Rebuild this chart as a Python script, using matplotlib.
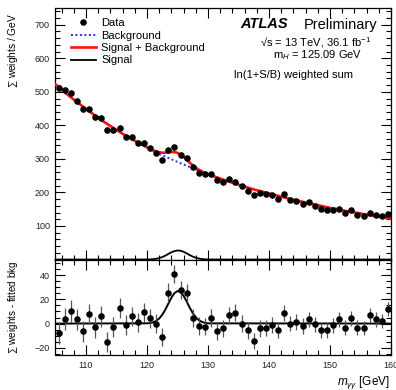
import numpy as np
import matplotlib
matplotlib.use("Agg")
import matplotlib.pyplot as plt
from matplotlib.lines import Line2D
from matplotlib.ticker import MultipleLocator

plt.rcParams['font.family'] = ['Liberation Sans', 'DejaVu Sans']
plt.rcParams['mathtext.fontset'] = 'custom'
plt.rcParams['mathtext.rm'] = 'Liberation Sans'
plt.rcParams['mathtext.it'] = 'Liberation Sans:italic'
plt.rcParams['mathtext.bf'] = 'Liberation Sans:bold'
plt.rcParams['mathtext.fallback'] = 'stixsans'

# --- weighted diphoton mass spectrum, 1 GeV bins from 105 to 160 GeV ---
bin_centres = np.arange(105.5, 160.0, 1.0)

weighted_sum = [
    512, 504, 496, 473, 449, 449, 424, 422, 386, 386,
    393, 366, 364, 348, 348, 333, 318, 298, 326, 334,
    313, 303, 275, 258, 254, 255, 236, 230, 239, 232,
    219, 205, 192, 198, 194, 191, 180, 194, 177, 175,
    166, 170, 160, 152, 147, 147, 152, 140, 147, 134,
    131, 140, 134, 131, 137,
]

# data minus fitted background
residual = [
    -8.0, 3.5, 10.5, 3.5, -6.5, 8.0, -3.0, 6.0, -15.5, -3.0,
    13.0, -1.0, 6.0, 1.0, 9.5, 4.5, 0.0, -11.0, 25.5, 41.0,
    28.0, 25.5, 4.5, -2.0, -2.5, 4.5, -6.0, -4.0, 7.0, 9.0,
    0.0, -5.5, -14.5, -4.0, -3.5, -1.0, -5.5, 9.0, 0.0, 1.5,
    -2.0, 3.5, -0.5, -5.5, -5.5, -1.5, 3.5, -3.5, 4.5, -3.5,
    -3.5, 7.0, 3.5, 2.0, 12.0,
]

residual_err = [
    9.0, 9.0, 9.0, 8.8, 8.8, 8.6, 8.6, 8.5, 8.4, 8.3,
    8.2, 8.1, 8.0, 8.0, 7.9, 7.8, 7.8, 7.7, 7.7, 7.6,
    7.6, 7.5, 7.4, 7.4, 7.3, 7.2, 7.2, 7.1, 7.0, 7.0,
    6.9, 6.9, 6.8, 6.8, 6.7, 6.7, 6.6, 6.6, 6.5, 6.5,
    6.4, 6.4, 6.3, 6.3, 6.3, 6.2, 6.2, 6.1, 6.1, 6.1,
    6.0, 6.0, 6.0, 5.9, 5.9,
]

# fitted background shape
bkg_mass = np.arange(105.0, 160.1, 2.5)
bkg_curve = [
    522, 484, 449, 416, 386, 359, 334, 311, 291, 272,
    254, 238, 223, 209, 197, 185, 174, 164, 154, 145,
    137, 129, 122,
]

# fitted signal shape (m_H = 125.09 GeV)
sig_mass = np.arange(120.0, 130.01, 0.5)
sig_curve = [
    0.2, 0.4, 1.0, 2.2, 4.2, 7.3, 11.5, 16.5, 21.4, 25.2,
    26.9, 26.1, 23.0, 18.3, 13.2, 8.7, 5.2, 2.8, 1.4, 0.6,
    0.2,
]

# common grid for the summed curve
grid = np.union1d(np.union1d(bkg_mass, sig_mass), [105.0, 160.0])
sig_on_grid = np.interp(grid, sig_mass, sig_curve, left=0.0, right=0.0)
bkg_on_grid = np.interp(grid, bkg_mass, bkg_curve)

W, H = 396, 390
fig = plt.figure(figsize=(W / 100, H / 100), dpi=100)


def px_box(left, top, right, bottom):
    return [left / W, 1 - bottom / H, (right - left) / W, (bottom - top) / H]


ax = fig.add_axes(px_box(55.5, 8, 391, 259.5))
axr = fig.add_axes(px_box(55.5, 259.5, 391, 355))

for a in (ax, axr):
    a.set_xlim(105, 160)
    a.xaxis.set_major_locator(MultipleLocator(10))
    a.xaxis.set_minor_locator(MultipleLocator(2))
    a.tick_params(which='both', direction='in', top=True, right=True,
                  labelsize=6.5, labelcolor='#222222', width=0.8)
    a.tick_params(which='major', length=7, pad=4.0)
    a.tick_params(which='minor', length=3.5)
    for s in a.spines.values():
        s.set_linewidth(0.9)

MS = 3.7

# --- main panel ---
ax.set_ylim(0, 750)
ax.yaxis.set_major_locator(MultipleLocator(100))
ax.yaxis.set_minor_locator(MultipleLocator(20))
ax.set_yticks([100, 200, 300, 400, 500, 600, 700])
ax.tick_params(labelbottom=False)

ax.plot(bkg_mass, bkg_curve, color='#2b2bff', lw=1.4, ls=(0, (1, 1.3)), zorder=2)
ax.plot(grid, bkg_on_grid + sig_on_grid, color='#ff1010', lw=1.9, zorder=3)
ax.plot(grid, sig_on_grid, color='black', lw=1.3, zorder=3, clip_on=False)
ax.errorbar(bin_centres, weighted_sum, yerr=residual_err, fmt='o', ms=MS,
            color='black', ecolor='#444444', elinewidth=0.9, capsize=0, zorder=4)

ax.set_ylabel(r'$\sum$ weights / GeV', fontsize=7.3, loc='top')
ax.yaxis.set_label_coords(-0.105, 0.98)

handles = [
    Line2D([], [], marker='o', ms=MS, color='black', ls='none'),
    Line2D([], [], color='#2b2bff', lw=1.4, ls=(0, (1, 1.3))),
    Line2D([], [], color='#ff1010', lw=1.9),
    Line2D([], [], color='black', lw=1.3),
]
labels = ['Data', 'Background', 'Signal + Background', 'Signal']
ax.legend(handles, labels, loc='upper left', bbox_to_anchor=(0.045, 0.96),
          frameon=False, fontsize=8, handlelength=2.3, handletextpad=0.45,
          labelspacing=0.22, borderaxespad=0, borderpad=0)

fig.text(240 / W, 1 - 28.5 / H, 'ATLAS', fontsize=10.5, fontweight='bold',
         fontstyle='italic', va='baseline', ha='left')
fig.text(377 / W, 1 - 28.5 / H, 'Preliminary', fontsize=10.5,
         va='baseline', ha='right')
fig.text(316 / W, 1 - 46 / H, '√s = 13 TeV, 36.1 fb$^{-1}$',
         fontsize=8, va='baseline', ha='center')
fig.text(318 / W, 1 - 58.5 / H, r'm$_{H}$ = 125.09 GeV',
         fontsize=8, va='baseline', ha='center')
fig.text(293 / W, 1 - 78 / H, 'ln(1+S/B) weighted sum',
         fontsize=8, va='baseline', ha='center')

# --- residual panel ---
axr.set_ylim(-26, 53)
axr.yaxis.set_major_locator(MultipleLocator(20))
axr.yaxis.set_minor_locator(MultipleLocator(5))
axr.set_yticks([-20, 0, 20, 40])

sig_line = np.union1d(sig_mass, [105.0, 160.0])
axr.plot(sig_line, np.interp(sig_line, sig_mass, sig_curve, left=0.0, right=0.0),
         color='black', lw=1.4, zorder=2)
axr.errorbar(bin_centres, residual, yerr=residual_err, fmt='o', ms=MS,
             color='black', ecolor='#555555', elinewidth=0.9, capsize=0, zorder=3)

axr.set_ylabel(r'$\sum$ weights - fitted bkg', fontsize=7.1)
axr.yaxis.set_label_coords(-0.105, 0.5)
axr.set_xlabel(r'$m_{\gamma\gamma}$ [GeV]', fontsize=8.5, loc='right')
axr.xaxis.set_label_coords(0.996, -0.195)

fig.savefig('out.png', dpi=100)
